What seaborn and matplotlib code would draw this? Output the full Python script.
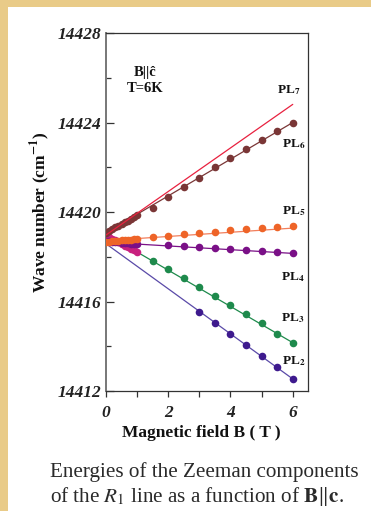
import matplotlib
matplotlib.use("Agg")
import matplotlib.pyplot as plt
from matplotlib.patches import Rectangle
import seaborn as sns

# Magnetic field values (T)
b_low = [0.0, 0.1, 0.2, 0.3, 0.4, 0.5, 0.6, 0.7, 0.8, 0.9, 1.0]
b_high = [1.5, 2.0, 2.5, 3.0, 3.5, 4.0, 4.5, 5.0, 5.5, 6.0]
b_pl4 = [2.0, 2.5, 3.0, 3.5, 4.0, 4.5, 5.0, 5.5, 6.0]
b_pl2 = [3.0, 3.5, 4.0, 4.5, 5.0, 5.5, 6.0]
b_fit = [0.0, 6.0]

# Measured line positions (cm^-1)
pl6_low = [14419.08, 14419.16, 14419.23, 14419.31, 14419.39, 14419.46,
           14419.54, 14419.62, 14419.69, 14419.77, 14419.85]
pl6_high = [14420.20, 14420.68, 14421.10, 14421.50, 14422.00, 14422.42,
            14422.82, 14423.22, 14423.62, 14424.00]
pl5_low = [14418.66, 14418.67, 14418.69, 14418.70, 14418.72, 14418.73,
           14418.74, 14418.76, 14418.77, 14418.79, 14418.80]
pl5_high = [14418.87, 14418.93, 14419.00, 14419.06, 14419.12, 14419.18,
            14419.23, 14419.28, 14419.33, 14419.38]
pl4_low = [14418.70, 14418.69, 14418.67, 14418.66, 14418.64, 14418.63,
           14418.61, 14418.60, 14418.58, 14418.57, 14418.55]
pl4_high = [14418.52, 14418.48, 14418.42, 14418.38, 14418.35, 14418.30,
            14418.26, 14418.21, 14418.15]
pl3_low = [14418.95, 14418.88, 14418.80, 14418.73, 14418.65, 14418.58,
           14418.50, 14418.43, 14418.35, 14418.28, 14418.20]
pl3_high = [14417.82, 14417.44, 14417.04, 14416.63, 14416.25, 14415.84,
            14415.44, 14415.05, 14414.55, 14414.16]
pl2_high = [14415.54, 14415.03, 14414.55, 14414.06, 14413.56, 14413.06,
            14412.54]

# Linear fits, evaluated at 0 T and 6 T
fit_pl7 = [14418.97, 14424.81]
fit_pl6 = [14419.08, 14424.00]
fit_pl5 = [14418.72, 14419.28]
fit_pl4 = [14418.65, 14418.15]
fit_pl3 = [14419.02, 14414.16]
fit_pl2 = [14418.58, 14412.54]

labels = ["PL$_{\\mathbf{7}}$", "PL$_{\\mathbf{6}}$", "PL$_{\\mathbf{5}}$",
          "PL$_{\\mathbf{4}}$", "PL$_{\\mathbf{3}}$", "PL$_{\\mathbf{2}}$"]
label_b = [5.50, 5.66, 5.66, 5.62, 5.62, 5.66]
label_v = [14425.45, 14423.04, 14420.04, 14417.08, 14415.26, 14413.33]

x_ticks = [0, 2, 4, 6]
y_ticks = [14412, 14416, 14420, 14424, 14428]

sns.set_theme(style="white")
plt.rcParams["font.family"] = ["Liberation Serif", "DejaVu Serif"]
plt.rcParams["mathtext.fontset"] = "stix"

W, H = 371, 511
fig = plt.figure(figsize=(W / 100, H / 100), dpi=100)
fig.patch.set_facecolor("#E9CB88")
fig.patches.append(Rectangle((8 / W, 0), 1, 1 - 7 / H, transform=fig.transFigure,
                             facecolor="white", edgecolor="none", zorder=-10))

ax = fig.add_axes([106 / W, 1 - 391 / H, (308 - 106) / W, (391 - 33) / H])
ax.set_zorder(2)
ax.set_facecolor("white")

c_brown = "#7A3636"
c_red = "#E8213F"
c_orange = "#EE6428"
c_orange_line = "#F27F5C"
c_purple = "#7A1087"
c_green = "#1E8A4C"
c_pink = "#C8207E"
c_indigo = "#3E1A8E"
c_indigo_line = "#5A4AA8"

lw = 0.9
sns.lineplot(x=b_fit, y=fit_pl6, ax=ax, color=c_brown, lw=lw, zorder=2)
sns.lineplot(x=b_fit, y=fit_pl5, ax=ax, color=c_orange_line, lw=lw, zorder=2)
sns.lineplot(x=b_fit, y=fit_pl4, ax=ax, color=c_purple, lw=lw, zorder=2)
sns.lineplot(x=b_fit, y=fit_pl3, ax=ax, color=c_green, lw=lw, zorder=2)
sns.lineplot(x=b_fit, y=fit_pl2, ax=ax, color=c_indigo_line, lw=lw, zorder=2)

ms = 30
pts = dict(ax=ax, s=ms, linewidth=0, zorder=3)
sns.scatterplot(x=b_low, y=pl3_low, color=c_pink, **pts)
sns.scatterplot(x=b_low, y=pl4_low, color=c_purple, **pts)
sns.scatterplot(x=b_low, y=pl5_low, color=c_orange, **pts)
sns.scatterplot(x=b_low, y=pl6_low, color=c_brown, **pts)
sns.scatterplot(x=b_high, y=pl6_high, color=c_brown, **pts)
sns.scatterplot(x=b_high, y=pl5_high, color=c_orange, **pts)
sns.scatterplot(x=b_pl4, y=pl4_high, color=c_purple, **pts)
sns.scatterplot(x=b_high, y=pl3_high, color=c_green, **pts)
sns.scatterplot(x=b_pl2, y=pl2_high, color=c_indigo, **pts)

sns.lineplot(x=b_fit, y=fit_pl7, ax=ax, color=c_red, lw=lw, zorder=4)

for lab, xb, yv in zip(labels, label_b, label_v):
    ax.text(xb, yv, lab, fontsize=9.5, fontweight="bold", ha="left", va="center",
            color="#111111")

ax.text(1.25, 14426.25, "B||ĉ", fontsize=10.5, fontweight="bold", ha="center",
        va="center", color="#111111")
ax.text(1.25, 14425.5, "T=6K", fontsize=10.5, fontweight="bold", ha="center",
        va="center", color="#111111")

ax.set_xlim(0, 6.49)
ax.set_ylim(14412, 14428)
ax.set_xticks(x_ticks)
ax.set_xticks([1, 3, 5], minor=True)
ax.set_yticks(y_ticks)
ax.set_yticks([14414, 14418, 14422, 14426], minor=True)
ax.set_xticklabels([str(v) for v in x_ticks])
ax.set_yticklabels([str(v) for v in y_ticks])

for lab in ax.get_xticklabels() + ax.get_yticklabels():
    lab.set_fontweight("bold")
    lab.set_fontstyle("italic")
    lab.set_fontsize(12.5)
    lab.set_color("#222222")

ax.tick_params(axis="y", which="major", direction="in", length=6, width=0.9,
               color="#333333", pad=3, left=True)
ax.tick_params(axis="y", which="minor", direction="in", length=3.5, width=0.9,
               color="#333333", left=True)
ax.tick_params(axis="x", which="both", direction="out", length=4, width=0.9,
               color="#333333", pad=6, bottom=True)

for side in ["top", "right", "bottom"]:
    ax.spines[side].set_color("#333333")
    ax.spines[side].set_linewidth(0.9)
ax.spines["left"].set_color("#777777")
ax.spines["left"].set_linewidth(1.4)

ax.set_xlabel("Magnetic field B ( T )", fontsize=12.5, fontweight="bold",
              color="#111111")
ax.set_ylabel("Wave number (cm$^{\\mathbf{-1}}$)", fontsize=12.5,
              fontweight="bold", color="#111111")
ax.xaxis.set_label_coords(0.47, -0.095)
ax.yaxis.set_label_coords(-0.265, 0.5)

fig.text(50 / W, 1 - 477 / H, "Energies of the Zeeman components",
         fontsize=15.2, color="#2A2A2A", ha="left", va="baseline")
fig.text(50 / W, 1 - 502 / H,
         "of the $R_{\\mathrm{1}}$ line as a function of $\\mathbf{B}\\Vert\\mathbf{c}$.",
         fontsize=15.2, color="#2A2A2A", ha="left", va="baseline")

fig.savefig("out.png", dpi=100, facecolor=fig.get_facecolor())
